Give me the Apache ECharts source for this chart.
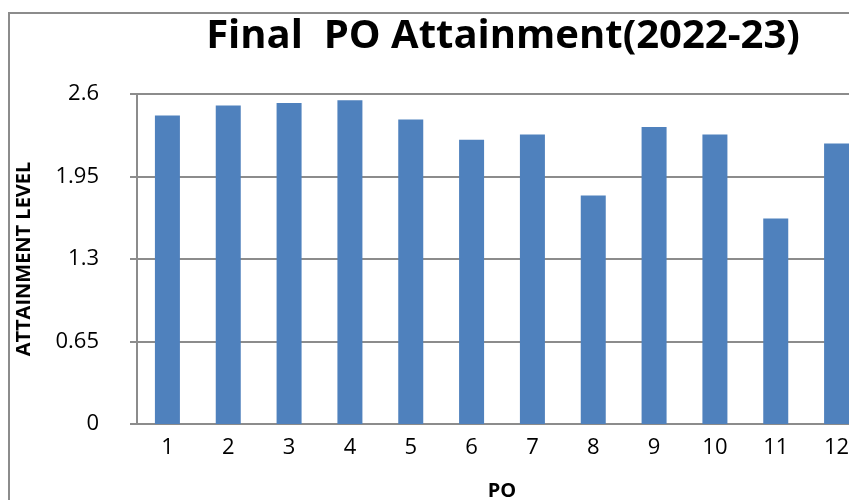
<!DOCTYPE html>
<html>
<head>
<meta charset="utf-8">
<script src="https://cdn.jsdelivr.net/npm/echarts@6/dist/echarts.min.js"></script>
<style>
  html, body { margin: 0; padding: 0; background: #fff; overflow: hidden; }
  /* the original chart is cut off at the right edge, so the canvas is a bit wider than the window */
  #chart { width: 867px; height: 500px; }
</style>
</head>
<body>
<div id="chart"></div>
<script>
// PO numbers on the x axis
const poLabels = ['1', '2', '3', '4', '5', '6', '7', '8', '9', '10', '11', '12'];
// attainment level per PO
const attainment = [2.43, 2.51, 2.53, 2.55, 2.40, 2.24, 2.28, 1.80, 2.34, 2.28, 1.62, 2.21];
// y axis ticks
const yMin = 0;
const yMax = 2.6;
const yStep = 0.65;

const chart = echarts.init(document.getElementById('chart'));

const option = {
  animation: false,
  backgroundColor: '#fff',
  title: {
    text: 'Final  PO Attainment(2022-23)',
    left: 498,
    textAlign: 'center',
    top: 12,
    textStyle: {
      fontFamily: 'Open Sans',
      fontWeight: 'bold',
      fontSize: 40,
      color: '#000'
    }
  },
  graphic: [{
    // outer chart-area frame (cut on the right and bottom)
    type: 'rect',
    shape: { x: 9, y: 13, width: 900, height: 600 },
    style: { fill: 'none', stroke: '#8c8c8c', lineWidth: 2 },
    silent: true
  }],
  grid: {
    left: 137,
    right: 0,
    top: 94,
    bottom: 76,
    outerBoundsMode: 'none'
  },
  xAxis: {
    type: 'category',
    data: poLabels,
    name: 'PO',
    nameLocation: 'middle',
    nameGap: 57,
    nameTextStyle: {
      fontFamily: 'Open Sans',
      fontWeight: 'bold',
      fontSize: 20,
      color: '#000'
    },
    axisLine: { lineStyle: { color: '#8c8c8c', width: 2 } },
    axisTick: { show: false },
    axisLabel: {
      margin: 13,
      fontFamily: 'Open Sans',
      fontSize: 22,
      color: '#000'
    }
  },
  yAxis: {
    type: 'value',
    min: yMin,
    max: yMax,
    interval: yStep,
    name: 'ATTAINMENT LEVEL',
    nameLocation: 'middle',
    nameGap: 103,
    nameRotate: 90,
    nameTextStyle: {
      fontFamily: 'Open Sans',
      fontWeight: 'bold',
      fontSize: 20,
      color: '#000'
    },
    axisLine: { show: true, lineStyle: { color: '#8c8c8c', width: 2 } },
    axisTick: { show: true, length: 7, lineStyle: { color: '#8c8c8c', width: 2 } },
    splitLine: { lineStyle: { color: '#8c8c8c', width: 2 } },
    axisLabel: {
      margin: 38,
      fontFamily: 'Open Sans',
      fontSize: 22,
      color: '#000',
      formatter: v => String(parseFloat(v.toFixed(2)))
    }
  },
  series: [{
    type: 'bar',
    data: attainment,
    barWidth: 25,
    itemStyle: { color: '#4F81BD' }
  }]
};

chart.setOption(option);
</script>
</body>
</html>
